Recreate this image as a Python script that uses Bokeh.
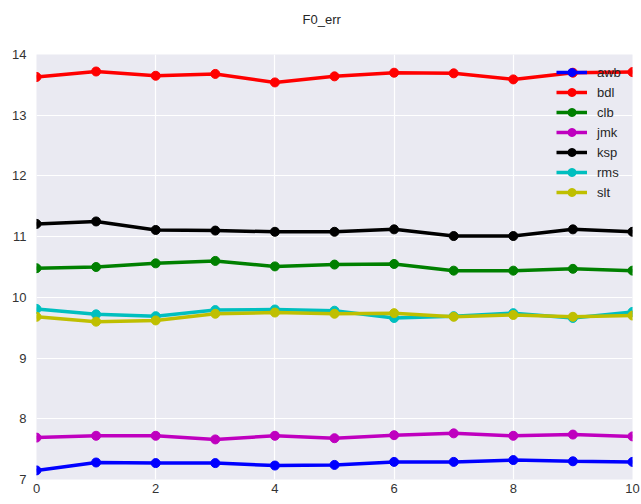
from bokeh.plotting import figure
from bokeh.embed import file_html
from bokeh.resources import INLINE
from bokeh.models import Range1d, FixedTicker, Legend, LinearAxis

x = list(range(11))
names = ["awb", "bdl", "clb", "jmk", "ksp", "rms", "slt"]
awb = [7.15, 7.28, 7.27, 7.27, 7.23, 7.24, 7.29, 7.29, 7.32, 7.30, 7.29]
bdl = [13.63, 13.72, 13.65, 13.68, 13.54, 13.64, 13.70, 13.69, 13.59, 13.70, 13.71]
clb = [10.48, 10.50, 10.56, 10.60, 10.51, 10.54, 10.55, 10.44, 10.44, 10.47, 10.44]
jmk = [7.69, 7.72, 7.72, 7.66, 7.72, 7.68, 7.73, 7.76, 7.72, 7.74, 7.71]
ksp = [11.21, 11.25, 11.11, 11.10, 11.08, 11.08, 11.12, 11.01, 11.01, 11.12, 11.08]
rms = [9.81, 9.72, 9.69, 9.79, 9.80, 9.78, 9.66, 9.69, 9.74, 9.66, 9.76]
slt = [9.68, 9.60, 9.62, 9.73, 9.75, 9.73, 9.74, 9.68, 9.71, 9.68, 9.70]
series = [awb, bdl, clb, jmk, ksp, rms, slt]
colors = ["#0000FF", "#FF0000", "#008000", "#BF00BF", "#000000", "#00BFBF", "#BFBF00"]
x_ticks = [0, 2, 4, 6, 8, 10]
y_ticks = [7, 8, 9, 10, 11, 12, 13, 14]
title_text = "F0_err"

FONT = "Liberation Sans"

p = figure(width=641, height=504, output_backend="svg", toolbar_location=None,
           x_range=Range1d(0, 10), y_range=Range1d(7, 14),
           min_border_left=36, min_border_right=9, min_border_top=54, min_border_bottom=25)
p.background_fill_color = "#EAEAF2"
p.border_fill_color = "white"
p.outline_line_color = None

p.title.text = title_text
p.title.align = "left"
p.title.offset = 266
p.title.standoff = 0
p.title.text_font = FONT
p.title.text_font_size = "13px"
p.title.text_font_style = "normal"
p.title.text_color = "#262626"

xaxis = p.below[0]
yaxis = p.left[0]
for ax in (xaxis, yaxis):
    ax.axis_line_color = None
    ax.major_tick_line_color = None
    ax.minor_tick_line_color = None
    ax.major_tick_out = 0
    ax.major_tick_in = 0
    ax.minor_tick_out = 0
    ax.minor_tick_in = 0
    ax.major_label_text_font = FONT
    ax.major_label_text_font_size = "13px"
    ax.major_label_text_color = "#333333"
xaxis.ticker = FixedTicker(ticks=x_ticks)
yaxis.ticker = FixedTicker(ticks=y_ticks)
xaxis.major_label_standoff = 4
yaxis.major_label_standoff = 10

p.xgrid[0].grid_line_color = "white"
p.ygrid[0].grid_line_color = "white"
p.xgrid[0].grid_line_width = 1.2
p.ygrid[0].grid_line_width = 1.2

# invisible axis above the frame, only used as spacing between title and frame
spacer_axis = LinearAxis(ticker=FixedTicker(ticks=[5]), axis_line_color=None,
                         major_tick_line_color=None, minor_tick_line_color=None,
                         major_tick_out=28, major_tick_in=0, minor_tick_out=0, minor_tick_in=0,
                         major_label_standoff=0, major_label_text_alpha=0,
                         major_label_text_font_size="1px",
                         major_label_overrides={5: " "})
p.add_layout(spacer_axis, "above")

items = []
for name, vals, c in zip(names, series, colors):
    r1 = p.line(x, vals, line_color=c, line_width=3.5)
    r2 = p.scatter(x, vals, size=9, fill_color=c, line_color=c)
    items.append((name, [r1, r2]))

legend = Legend(items=items, location=(520, 277))
legend.background_fill_alpha = 0
legend.border_line_color = None
legend.padding = 0
legend.margin = 0
legend.spacing = 0
legend.glyph_width = 31
legend.glyph_height = 20
legend.label_height = 20
legend.label_standoff = 10
legend.label_text_font = FONT
legend.label_text_font_size = "13px"
legend.label_text_color = "#262626"
p.add_layout(legend)

open("out.html", "w").write(file_html(p, INLINE))
